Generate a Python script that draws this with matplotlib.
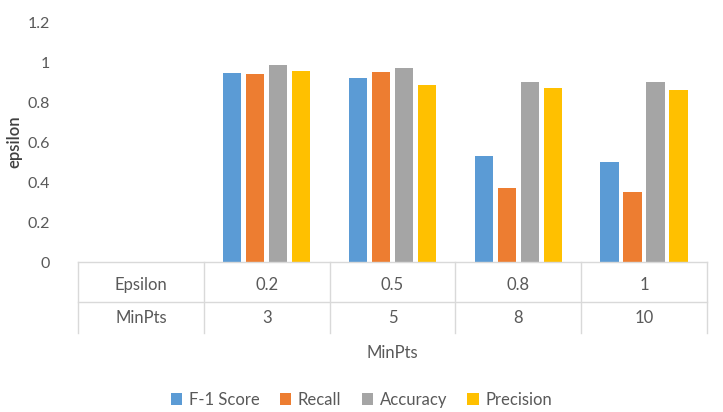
import matplotlib.pyplot as plt
import numpy as np

plt.rcParams['font.family'] = ['Lato', 'DejaVu Sans']

epsilon_labels = ["Epsilon", "0.2", "0.5", "0.8", "1"]
minpts_labels = ["MinPts", "3", "5", "8", "10"]
series = ["F-1 Score", "Recall", "Accuracy", "Precision"]
f1 = [np.nan, 0.946, 0.92, 0.528, 0.498]
recall = [np.nan, 0.938, 0.952, 0.372, 0.348]
accuracy = [np.nan, 0.983, 0.972, 0.898, 0.898]
precision = [np.nan, 0.955, 0.883, 0.868, 0.861]
colors = ["#5B9BD5", "#ED7D31", "#A5A5A5", "#FFC000"]

txt = "#595959"
grid = "#D9D9D9"

fig = plt.figure(figsize=(7.23, 4.12), dpi=100)
ax = fig.add_axes([78 / 723, 150 / 412, 629 / 723, 240 / 412])

x = np.arange(len(epsilon_labels))
slot = 0.183
w = 0.147
for i, (vals, c) in enumerate(zip([f1, recall, accuracy, precision], colors)):
    ax.bar(x + (i - 1.5) * slot, vals, width=w, color=c, label=series[i])

ax.set_xlim(-0.5, 4.5)
ax.set_ylim(0, 1.2)
ax.set_yticks([0, 0.2, 0.4, 0.6, 0.8, 1, 1.2])
ax.set_yticklabels(["0", "0.2", "0.4", "0.6", "0.8", "1", "1.2"])
ax.tick_params(axis='y', length=0, pad=20, labelsize=11.5, labelcolor=txt)
ax.set_xticks([])
for s in ax.spines.values():
    s.set_visible(False)

# multi-level category axis
kw = dict(color=grid, lw=1, clip_on=False)
ax.plot([-0.5, 4.5], [0, 0], **kw)
ax.plot([-0.5, 4.5], [-0.2, -0.2], **kw)
for b in np.arange(-0.5, 5, 1):
    ax.plot([b, b], [0, -0.355], **kw)
for xi, e, m in zip(x, epsilon_labels, minpts_labels):
    ax.text(xi, -0.115, e, ha='center', va='center', fontsize=12, color=txt)
    ax.text(xi, -0.28, m, ha='center', va='center', fontsize=12, color=txt)
ax.text(2, -0.455, "MinPts", ha='center', va='center', fontsize=12, color=txt)

ax.set_ylabel("epsilon", fontsize=12, color="#404040", fontweight='semibold', labelpad=4)

fig.legend(loc='center', bbox_to_anchor=(0.5, 12 / 412), ncol=4, frameon=False,
           fontsize=12, labelcolor=txt, handlelength=0.7, handleheight=0.7,
           handletextpad=0.4, columnspacing=1.2)

fig.savefig("out.png", dpi=100)
